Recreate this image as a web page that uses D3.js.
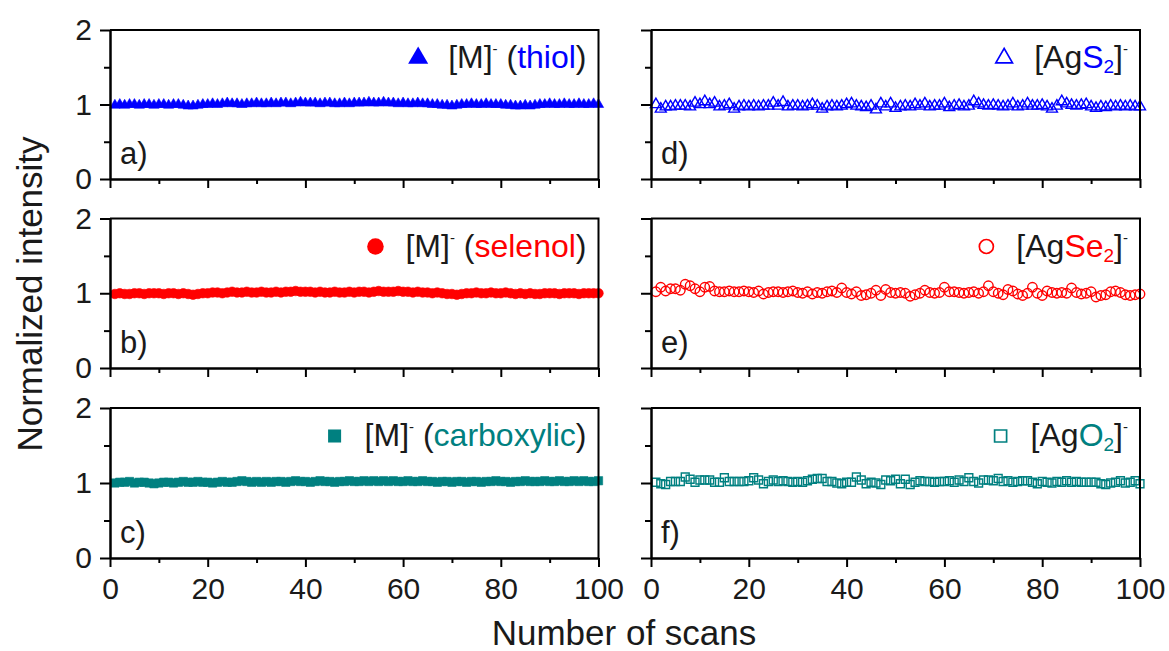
<!DOCTYPE html>
<html>
<head>
<meta charset="utf-8">
<script src="https://cdn.jsdelivr.net/npm/d3@7"></script>
<style>
  html, body { margin: 0; padding: 0; background: #fff; }
  svg { display: block; font-family: "Liberation Sans", Arial, sans-serif; }
</style>
</head>
<body>
<svg id="chart" width="1169" height="651"></svg>
<script>
// Scan index shared by every series
const scans = d3.range(1, 101);

// [M]- molecular ions (filled markers, left column)
const thiol = [
  0.99, 1.00, 0.99, 1.00, 1.00, 0.99, 1.00, 1.00, 0.99, 1.00,
  1.00, 0.99, 1.00, 1.00, 0.99, 0.98, 0.98, 0.99, 1.00, 1.00,
  1.01, 1.00, 1.01, 1.02, 1.01, 1.01, 1.00, 1.01, 1.01, 1.02,
  1.01, 1.01, 1.02, 1.01, 1.02, 1.02, 1.01, 1.02, 1.03, 1.02,
  1.02, 1.02, 1.01, 1.02, 1.02, 1.01, 1.01, 1.02, 1.01, 1.02,
  1.02, 1.02, 1.03, 1.02, 1.02, 1.03, 1.02, 1.02, 1.01, 1.02,
  1.01, 1.01, 1.02, 1.01, 1.01, 1.00, 1.00, 0.99, 0.99, 0.98,
  0.99, 1.00, 1.00, 1.01, 1.00, 1.00, 1.01, 1.00, 1.00, 1.00,
  0.99, 0.99, 0.98, 0.98, 0.99, 0.98, 0.99, 1.00, 1.00, 1.01,
  1.00, 1.00, 1.01, 1.00, 1.00, 1.01, 1.00, 1.00, 1.01, 1.00
];
const selenol = [
  0.99, 1.00, 0.99, 0.99, 1.00, 1.00, 0.99, 1.00, 1.00, 1.00,
  0.99, 1.00, 1.00, 0.99, 1.00, 0.99, 0.98, 0.99, 1.00, 1.00,
  1.01, 1.01, 1.00, 1.01, 1.02, 1.01, 1.01, 1.02, 1.01, 1.01,
  1.02, 1.01, 1.01, 1.02, 1.01, 1.02, 1.02, 1.03, 1.02, 1.02,
  1.02, 1.01, 1.02, 1.01, 1.01, 1.02, 1.01, 1.01, 1.02, 1.01,
  1.02, 1.02, 1.01, 1.02, 1.03, 1.02, 1.02, 1.02, 1.03, 1.02,
  1.02, 1.01, 1.02, 1.01, 1.01, 1.00, 1.01, 1.00, 0.99, 0.99,
  0.98, 0.99, 1.00, 1.00, 1.01, 1.00, 1.00, 1.01, 1.00, 1.00,
  1.01, 1.00, 0.99, 1.00, 0.99, 1.00, 0.99, 0.99, 1.00, 1.00,
  1.00, 0.99, 1.00, 1.00, 1.00, 0.99, 1.00, 1.00, 1.00, 1.00
];
const carboxylic = [
  1.00, 1.01, 1.01, 1.02, 1.00, 1.01, 1.01, 1.00, 0.99, 1.00,
  1.01, 1.01, 1.00, 1.01, 1.02, 1.01, 1.01, 1.02, 1.01, 1.01,
  1.00, 1.01, 1.02, 1.01, 1.01, 1.02, 1.03, 1.02, 1.01, 1.02,
  1.01, 1.02, 1.01, 1.02, 1.02, 1.01, 1.02, 1.03, 1.02, 1.02,
  1.01, 1.02, 1.03, 1.02, 1.02, 1.01, 1.02, 1.02, 1.03, 1.02,
  1.02, 1.03, 1.02, 1.03, 1.02, 1.03, 1.02, 1.03, 1.02, 1.02,
  1.03, 1.02, 1.02, 1.03, 1.02, 1.02, 1.01, 1.02, 1.02, 1.01,
  1.02, 1.02, 1.01, 1.02, 1.02, 1.01, 1.02, 1.02, 1.03, 1.02,
  1.02, 1.01, 1.02, 1.02, 1.03, 1.02, 1.02, 1.02, 1.03, 1.02,
  1.02, 1.03, 1.02, 1.02, 1.03, 1.02, 1.03, 1.02, 1.02, 1.03
];

// [AgX2]- cluster ions (open markers, right column)
const agS2 = [
  1.00, 0.94, 0.97, 0.97, 0.98, 0.98, 0.98, 0.97, 1.02, 1.00,
  1.04, 1.00, 1.02, 0.97, 0.98, 1.00, 0.94, 0.97, 0.98, 0.97,
  0.98, 0.97, 0.98, 0.98, 1.02, 0.98, 1.03, 0.97, 0.98, 0.98,
  0.97, 0.98, 1.00, 0.98, 0.94, 0.97, 0.98, 0.97, 0.98, 1.00,
  1.01, 0.98, 0.97, 0.96, 0.98, 0.93, 1.01, 0.97, 1.01, 0.95,
  0.97, 0.98, 0.97, 1.00, 0.98, 1.01, 0.97, 0.98, 0.98, 1.01,
  0.96, 0.98, 0.99, 0.97, 0.98, 1.04, 1.01, 0.99, 0.98, 0.99,
  0.98, 0.97, 0.98, 1.01, 0.97, 0.98, 1.01, 0.98, 0.98, 0.99,
  0.97, 0.94, 0.98, 1.04, 1.01, 0.99, 0.98, 0.99, 1.00, 0.97,
  0.95, 0.97, 0.96, 0.98, 0.97, 0.98, 0.97, 0.98, 0.97, 0.97
];
const agSe2 = [
  1.02, 1.08, 1.03, 1.06, 1.06, 1.04, 1.12, 1.10, 1.06, 1.02,
  1.08, 1.09, 1.03, 1.02, 1.02, 1.03, 1.02, 1.02, 1.03, 1.02,
  1.01, 1.03, 0.99, 1.01, 1.02, 1.02, 1.01, 1.02, 1.03, 1.01,
  1.00, 1.02, 0.99, 1.01, 1.00, 1.02, 1.03, 1.01, 1.07, 1.01,
  0.99, 1.02, 0.97, 0.98, 1.00, 1.04, 0.97, 1.05, 1.01, 1.00,
  1.01, 1.00, 0.96, 0.98, 1.00, 1.04, 1.01, 1.00, 1.01, 1.08,
  1.02, 1.02, 1.01, 1.00, 1.01, 1.02, 1.00, 1.02, 1.10, 1.02,
  1.00, 0.98, 1.05, 1.03, 0.99, 0.97, 1.00, 1.08, 1.00, 0.97,
  1.03, 1.01, 1.00, 1.01, 1.00, 1.07, 1.01, 0.99, 1.00, 1.02,
  0.95, 0.97, 0.98, 1.02, 1.03, 1.01, 0.98, 0.97, 0.98, 0.99
];
const agO2 = [
  1.01, 0.99, 0.98, 1.02, 1.02, 1.02, 1.08, 1.05, 1.01, 1.04,
  1.04, 1.04, 1.01, 1.01, 1.07, 1.02, 1.02, 1.02, 1.02, 1.03,
  1.07, 1.04, 0.99, 1.02, 1.04, 1.02, 1.03, 1.02, 1.01, 1.02,
  1.01, 1.03, 1.05, 1.06, 1.06, 1.02, 1.02, 1.00, 0.99, 1.01,
  1.01, 1.08, 1.04, 0.99, 1.01, 1.00, 0.98, 1.04, 1.03, 1.05,
  0.99, 1.05, 0.98, 1.01, 1.03, 1.02, 1.02, 1.01, 1.02, 1.02,
  1.03, 1.01, 1.04, 1.02, 1.07, 1.02, 1.00, 1.04, 1.04, 1.03,
  1.06, 1.02, 1.03, 1.01, 1.02, 1.03, 1.03, 1.01, 0.99, 1.02,
  1.01, 1.00, 1.02, 1.01, 1.03, 1.01, 1.02, 1.01, 1.01, 1.01,
  1.01, 0.99, 0.98, 1.00, 1.01, 1.03, 1.00, 1.01, 1.03, 0.99
];

// Axis ticks
const xMajor = [0, 20, 40, 60, 80, 100];
const xMinor = [10, 30, 50, 70, 90];
const yMajor = [0, 1, 2];
const yMinor = [0.5, 1.5];

// Colours
const BLUE = "#0000ff";
const RED = "#ff0000";
const TEAL = "#008080";
const INK = "#1a1a1a";

// Panel geometry
const colX = [[110, 598.5], [651, 1140]];
const rowY = [[30, 179], [218.5, 368], [408, 558]];

const panels = [
  { col: 0, row: 0, tag: "a)", values: thiol, color: BLUE, shape: d3.symbolTriangle, open: false,
    legend: [["[M]", INK], ["-", INK, "sup"], [" (", INK], ["thiol", BLUE], [")", INK]] },
  { col: 0, row: 1, tag: "b)", values: selenol, color: RED, shape: d3.symbolCircle, open: false,
    legend: [["[M]", INK], ["-", INK, "sup"], [" (", INK], ["selenol", RED], [")", INK]] },
  { col: 0, row: 2, tag: "c)", values: carboxylic, color: TEAL, shape: d3.symbolSquare, open: false,
    legend: [["[M]", INK], ["-", INK, "sup"], [" (", INK], ["carboxylic", TEAL], [")", INK]] },
  { col: 1, row: 0, tag: "d)", values: agS2, color: BLUE, shape: d3.symbolTriangle, open: true,
    legend: [["[Ag", INK], ["S", BLUE], ["2", BLUE, "sub"], ["]", INK], ["-", INK, "sup"]] },
  { col: 1, row: 1, tag: "e)", values: agSe2, color: RED, shape: d3.symbolCircle, open: true,
    legend: [["[Ag", INK], ["Se", RED], ["2", RED, "sub"], ["]", INK], ["-", INK, "sup"]] },
  { col: 1, row: 2, tag: "f)", values: agO2, color: TEAL, shape: d3.symbolSquare, open: true,
    legend: [["[Ag", INK], ["O", TEAL], ["2", TEAL, "sub"], ["]", INK], ["-", INK, "sup"]] }
];

// Marker areas (px^2) for plotted points and legend keys
function markerSize(shape, open, legend) {
  if (shape === d3.symbolTriangle) return legend ? (open ? 120 : 175) : (open ? 52 : 46);
  if (shape === d3.symbolCircle) return legend ? (open ? 155 : 215) : (open ? 70 : 72);
  return legend ? (open ? 144 : 170) : (open ? 62 : 70);
}

const svg = d3.select("#chart");

panels.forEach(p => {
  const [x0, x1] = colX[p.col];
  const [y0, y1] = rowY[p.row];
  const x = d3.scaleLinear().domain([0, 100]).range([x0, x1]);
  const y = d3.scaleLinear().domain([0, 2]).range([y1, y0]);
  const g = svg.append("g");

  const showY = p.col === 0;
  const showX = p.row === 2;

  // Data markers
  const sym = d3.symbol().type(p.shape).size(markerSize(p.shape, p.open, false));
  g.append("g").selectAll("path")
    .data(scans.map((s, i) => [s, p.values[i]]))
    .join("path")
    .attr("d", sym)
    .attr("transform", d => `translate(${x(d[0])},${y(d[1])})`)
    .attr("fill", p.open ? "none" : p.color)
    .attr("stroke", p.color)
    .attr("stroke-width", p.open ? 1.4 : 0.6);

  // Axes: major and minor ticks point outward
  const axisStyle = sel => {
    sel.selectAll("path.domain").attr("stroke", "#000").attr("stroke-width", 2);
    sel.selectAll(".tick line").attr("stroke", "#000").attr("stroke-width", 2);
    sel.selectAll(".tick text").attr("fill", INK).attr("font-size", 30)
      .attr("font-family", '"Liberation Sans", Arial, sans-serif');
  };

  g.append("g").attr("transform", `translate(${x0},0)`)
    .call(d3.axisLeft(y).tickValues(yMinor).tickSize(6).tickSizeOuter(0).tickFormat(() => ""))
    .call(axisStyle);
  g.append("g").attr("transform", `translate(${x0},0)`)
    .call(d3.axisLeft(y).tickValues(yMajor).tickSize(10).tickSizeOuter(0).tickPadding(8)
      .tickFormat(showY ? d3.format("d") : () => ""))
    .call(axisStyle);

  g.append("g").attr("transform", `translate(0,${y1})`)
    .call(d3.axisBottom(x).tickValues(xMinor).tickSize(5).tickSizeOuter(0).tickFormat(() => ""))
    .call(axisStyle);
  g.append("g").attr("transform", `translate(0,${y1})`)
    .call(d3.axisBottom(x).tickValues(xMajor).tickSize(9).tickSizeOuter(0).tickPadding(11)
      .tickFormat(showX ? d3.format("d") : () => ""))
    .call(axisStyle);

  // Top and right frame lines
  g.append("path")
    .attr("d", `M${x0},${y0}H${x1}V${y1}`)
    .attr("fill", "none").attr("stroke", "#000").attr("stroke-width", 2);

  // Panel tag
  g.append("text")
    .attr("x", x0 + 10).attr("y", y1 - 15)
    .attr("font-size", 31).attr("fill", INK)
    .text(p.tag);

  // Legend entry, right aligned
  const lt = g.append("text")
    .attr("x", x1 - 12).attr("y", y0 + 38)
    .attr("text-anchor", "end")
    .attr("font-size", 32).attr("fill", INK);
  let shift = 0;
  p.legend.forEach(([txt, col, kind]) => {
    const target = kind === "sup" ? -14 : kind === "sub" ? 5 : 0;
    lt.append("tspan")
      .attr("dy", target - shift)
      .attr("fill", col)
      .attr("font-size", kind === "sup" ? 15 : kind === "sub" ? 19 : 32)
      .text(txt);
    shift = target;
  });
  const bb = lt.node().getBBox();
  const mk = d3.symbol().type(p.shape).size(markerSize(p.shape, p.open, true));
  g.append("path")
    .attr("d", mk)
    .attr("transform", `translate(${bb.x - 30},${y0 + 28})`)
    .attr("fill", p.open ? "none" : p.color)
    .attr("stroke", p.color)
    .attr("stroke-width", p.open ? 1.7 : 0);
});

// Shared axis titles
svg.append("text")
  .attr("transform", "translate(42,294) rotate(-90)")
  .attr("text-anchor", "middle")
  .attr("font-size", 35).attr("fill", INK)
  .text("Normalized intensity");

svg.append("text")
  .attr("x", 624).attr("y", 645)
  .attr("text-anchor", "middle")
  .attr("font-size", 35).attr("fill", INK)
  .text("Number of scans");
</script>
</body>
</html>
